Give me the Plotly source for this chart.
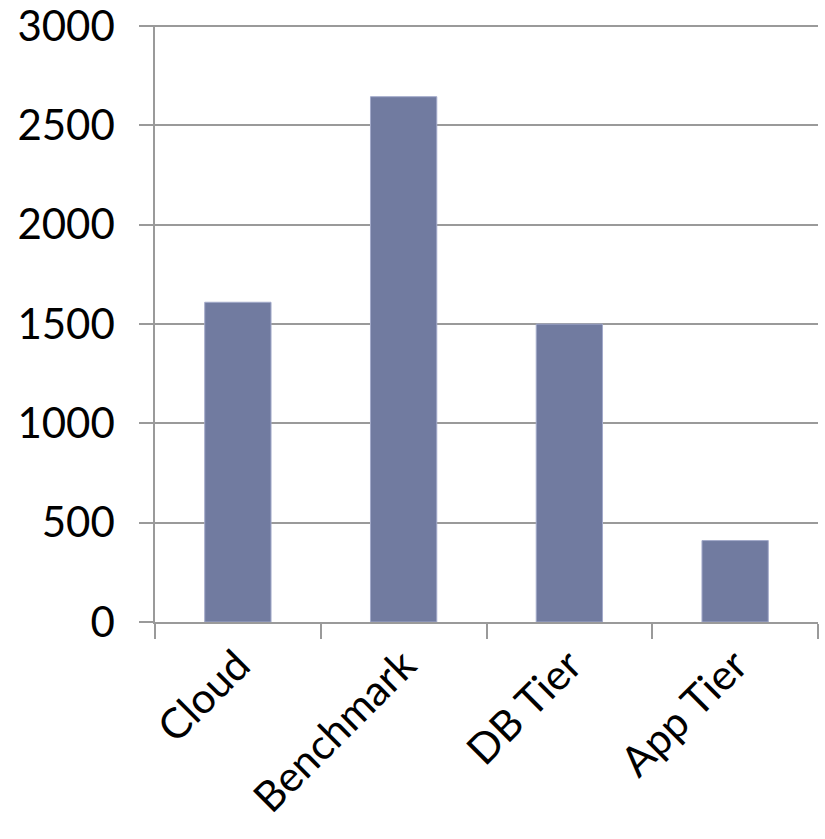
import plotly.graph_objects as go

categories = ["Cloud", "Benchmark", "DB Tier", "App Tier"]
values = [1610, 2645, 1500, 410]
y_ticks = [0, 500, 1000, 1500, 2000, 2500, 3000]

BAR = "#717BA0"
GRID = "#9A9A9A"
FONT = "Lato"

fig = go.Figure(
    go.Bar(
        x=categories,
        y=values,
        marker=dict(color=BAR, line=dict(color="#A3AACA", width=1)),
    )
)

fig.update_layout(
    width=825,
    height=839,
    margin=dict(l=155, r=7, t=25, b=217),
    paper_bgcolor="white",
    plot_bgcolor="white",
    bargap=0.6,
    showlegend=False,
    font=dict(family=FONT, color="black"),
)

# headroom above 3000 keeps the top gridline from being clipped
fig.update_yaxes(
    range=[0, 3006],
    tickvals=y_ticks,
    ticktext=[str(v) for v in y_ticks],
    showgrid=True,
    gridcolor=GRID,
    gridwidth=1.5,
    showline=True,
    linecolor=GRID,
    linewidth=1.5,
    ticks="outside",
    ticklen=14,
    tickcolor=GRID,
    tickwidth=1.5,
    tickfont=dict(size=42, family=FONT, color="black"),
    ticklabelstandoff=16,
    ticklabeloverflow="allow",
    automargin=False,
    zeroline=False,
)

fig.update_xaxes(
    showgrid=False,
    showline=True,
    linecolor=GRID,
    linewidth=1.5,
    ticks="outside",
    tickson="boundaries",
    ticklen=15,
    tickcolor=GRID,
    tickwidth=1.5,
    tickangle=-45,
    tickfont=dict(size=42, family=FONT, color="black"),
    automargin=False,
)

fig.write_html("out.html")
